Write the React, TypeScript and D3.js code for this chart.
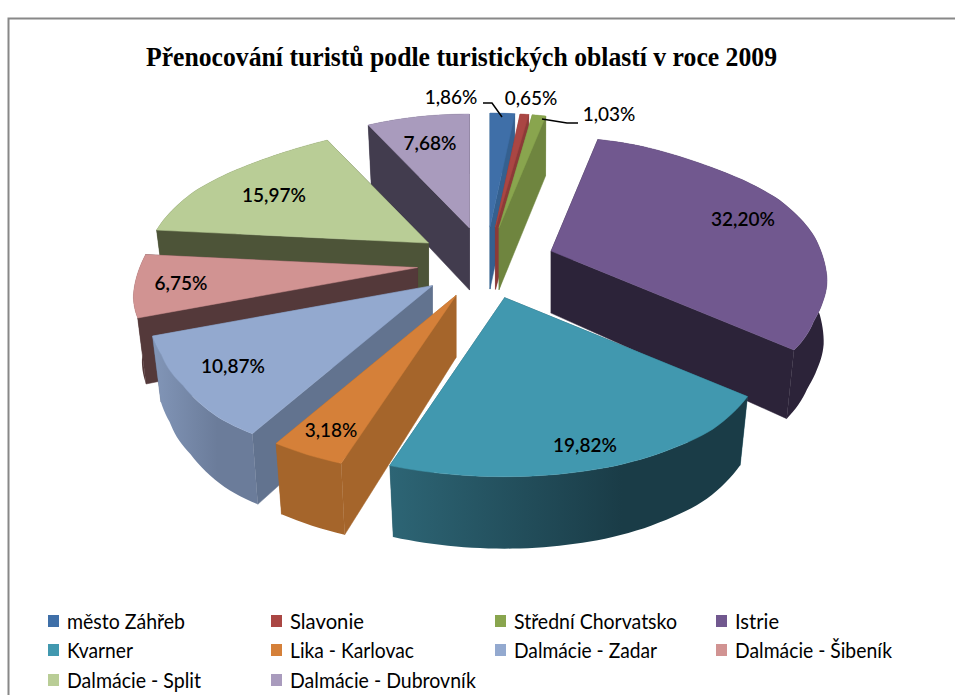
import React from "react";
import * as d3 from "d3";

const categories = ["město Záhřeb","Slavonie","Střední Chorvatsko","Istrie","Kvarner","Lika - Karlovac","Dalmácie - Zadar","Dalmácie - Šibeník","Dalmácie - Split","Dalmácie - Dubrovník"];
const values = [1.86,0.65,1.03,32.2,19.82,3.18,10.87,6.75,15.97,7.68];
const topColors = ["#3f6fa8","#aa4643","#89a54e","#71588f","#4198af","#d58039","#93a9cf","#d19392","#b9cd96","#a99bbd"];
const wallColors = ["#35608f","#8c3a38","#6f853f","#2c2339","#275a69","#a5652b","#62738f","#54393a","#4d5438","#423c4e"];
const rimLeft = ["#35608f","#8c3a38","#6f853f","#2c2339","#2d6575","#a5652b","#8296b8","#54393a","#4d5438","#423c4e"];
const rimRight = ["#35608f","#8c3a38","#6f853f","#2c2339","#1a3c47","#a5652b","#6b7c9a","#54393a","#4d5438","#423c4e"];
const drawOrder = [9,8,7,6,0,1,2,5,3,4];
const labelPos: [number, number][] = [[451,97],[531,98],[609,114],[743,219],[585,445],[331,430],[233,366],[181,283],[274,195],[430,143]];
const legendX = [48,271,495,716];
const legendRowY = [621,650,680];
const legendWidths = [118,74,163,44,66,124,143,157,134,186];

const W = 955, H = 695;
const cx = 486, cy = 263, explodeX = 69, explodeY = 36;
const radius = d3.scaleLinear()
  .domain([-1,-0.886,-0.6,-0.42,-0.085,0.17,0.33,0.45,0.625,0.77,0.853,0.904,0.94,1])
  .range([212,212,240,250,265,280,288,294,311,325,335,332,326,326]);
const offsetY = d3.scaleLinear()
  .domain([-1,-0.886,-0.6,-0.42,-0.085,0.17,0.33,0.45,0.625,0.77,0.853,0.904,0.94,1])
  .range([-114,-103,-71,-52,-13,28,50,70,99,132,148,160,168,179]);
const depth = d3.scaleLinear().domain([-1,0,1]).range([60,63,72]);
const rightShrink = d3.scaleLinear().domain([0,0.6]).range([0.995,0.97]).clamp(true);
const leftStretch = 1.03, leftShrink = 0.97;

const arcs = d3.pie<number>().sort(null).value(d=>d).startAngle(0).endAngle(2*Math.PI)(values);
const fmt = (v:number)=>v.toFixed(2).replace(".",",")+"%";

type P=[number,number];
function geom(a:d3.PieArcDatum<number>){
  const mid=(a.startAngle+a.endAngle)/2;
  const ax=cx+explodeX*Math.sin(mid), ay=cy-explodeY*Math.cos(mid);
  const dx=(t:number)=>{const s=Math.sin(t);return radius(-Math.cos(t))*s*(s<0?leftStretch:1);};
  const top=(t:number):P=>[ax+dx(t),ay+offsetY(-Math.cos(t))];
  const bot=(t:number):P=>{
    const Y=-Math.cos(t);
    const k=Math.sin(t)<0?leftShrink:rightShrink(Y);
    return [ax+k*dx(t),ay+offsetY(Y)+depth(Y)];
  };
  const n=Math.max(4,Math.ceil((a.endAngle-a.startAngle)*40));
  const ts=d3.range(n+1).map(i=>a.startAngle+(a.endAngle-a.startAngle)*i/n);
  return {ax,ay,top,bot,ts,mid};
}
const line=d3.line<P>().x(d=>d[0]).y(d=>d[1]);

export default function App(){
  return (
    <svg width={W} height={H} style={{position:"absolute",left:0,top:0,background:"#fff"}}>
      <defs>
        {arcs.map((a,i)=>{
          const g=geom(a);
          const xs=g.ts.map(t=>g.top(t)[0]);
          return <linearGradient key={i} id={"rim"+i} gradientUnits="userSpaceOnUse" x1={d3.min(xs)} x2={d3.max(xs)} y1={0} y2={0}>
            <stop offset="0" stopColor={rimLeft[i]}/><stop offset="0.65" stopColor={rimRight[i]}/>
          </linearGradient>;
        })}
      </defs>
      <path d={`M8.5,${H}V18.5H${W}`} fill="none" stroke="#888" strokeWidth={2}/>
      <text x={146} y={66} fontFamily="'Liberation Serif'" fontWeight="bold" fontSize={27} textLength={631} lengthAdjust="spacingAndGlyphs" fill="#000">Přenocování turistů podle turistických oblastí v roce 2009</text>
      {drawOrder.map(i=>{
        const a=arcs[i]; const g=geom(a);
        const apexBot:P=[g.ax,g.ay+62];
        const wall=(t:number)=>line([[g.ax,g.ay],g.top(t),g.bot(t),apexBot])+"Z";
        const walls=[a.startAngle,a.endAngle].sort((p,q)=>-Math.cos(p)+Math.cos(q));
        const rim=line([...g.ts.map(g.top),...g.ts.slice().reverse().map(g.bot)])+"Z";
        const topFace=line([[g.ax,g.ay],...g.ts.map(g.top)])+"Z";
        return <g key={i}>
          {walls.map((t,j)=><path key={j} d={wall(t)} fill={wallColors[i]} stroke={wallColors[i]} strokeWidth={0.5}/>)}
          <path d={rim} fill={`url(#rim${i})`} stroke="none"/>
          <path d={topFace} fill={topColors[i]} stroke={topColors[i]} strokeWidth={0.5}/>
        </g>;
      })}
      <path d="M483,103H492L502,117" fill="none" stroke="#000" strokeWidth={1.5}/>
      <path d="M542,119L567,123H578" fill="none" stroke="#000" strokeWidth={1.5}/>
      {values.map((v,i)=><text key={i} x={labelPos[i][0]} y={labelPos[i][1]} dy="0.35em" textAnchor="middle" fontFamily="Lato" fontSize={19} fontWeight={i>=3&&i!==5?600:500} fill="#000">{fmt(v)}</text>)}
      {categories.map((c,i)=>{
        const col=i%4,row=Math.floor(i/4);
        return <g key={i}>
          <rect x={legendX[col]} y={legendRowY[row]-6} width={11} height={12} fill={topColors[i]}/>
          <text x={legendX[col]+19} y={legendRowY[row]} dy="0.36em" fontFamily="Lato" fontSize={22} textLength={legendWidths[i]} lengthAdjust="spacingAndGlyphs" fill="#000">{c}</text>
        </g>;
      })}
    </svg>
  );
}
